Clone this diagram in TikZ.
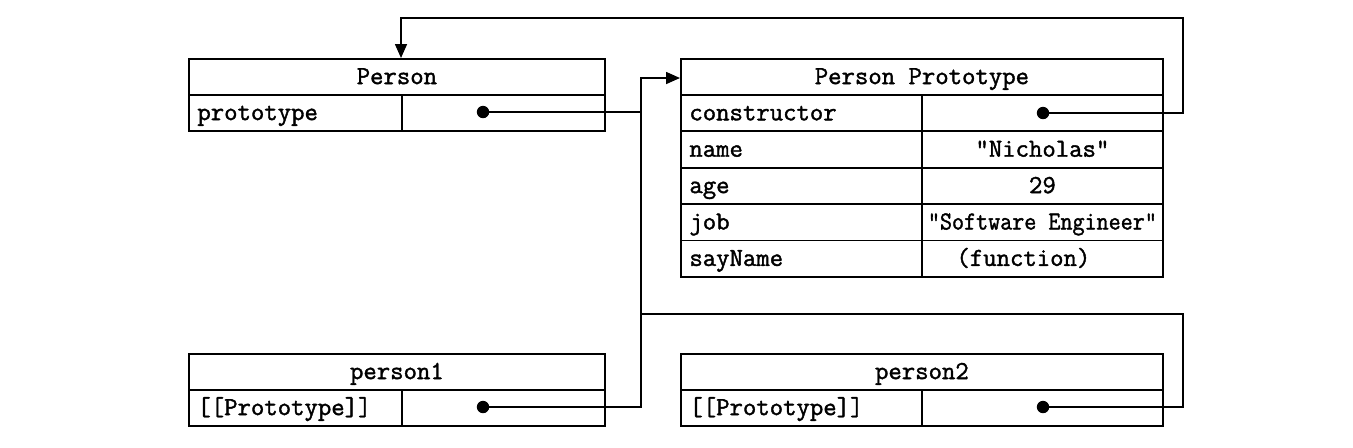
\documentclass[tikz,border=0pt]{standalone}
\usepackage{fontspec}
\newfontfamily\mono{Latin Modern Mono}[FakeBold=1.5]
\usetikzlibrary{arrows.meta}
\tikzset{
  cellbox/.style={draw, line width=0.9pt, inner sep=0pt, minimum height=18pt, anchor=north west},
  txt/.style={font=\mono\fontsize{13pt}{15pt}\selectfont, inner sep=0pt, text height=0.6em, text depth=0.2em, yshift=-1.6pt},
  conn/.style={line width=0.8pt},
  arr/.style={conn, -{Triangle[width=6pt,length=7pt]}},
  dotmark/.style={circle, fill=black, inner sep=0pt, minimum size=6.2pt},
}
\begin{document}
\begin{tikzpicture}[x=0.5pt, y=-0.5pt]
\useasboundingbox (0,0) rectangle (1353,447);
% ---- Person ----
\node[cellbox, minimum width=208pt] (personH) at (188,58) {};
\node[txt] (personHT) at (personH.center) {Person};
\node[cellbox, minimum width=106.5pt] (personK) at (188,94) {};
\node[cellbox, minimum width=101.5pt] (personV) at (401,94) {};
\node[txt, anchor=west] (personKT) at ([xshift=4.5pt]personK.west) {prototype};
\node[dotmark] (pdot) at (483,112) {};
% ---- Person Prototype ----
\node[cellbox, minimum width=241pt] (ppH) at (680,58) {};
\node[txt] (ppHT) at (ppH.center) {Person Prototype};
\foreach \i/\k/\v in {0/constructor/, 1/name/"Nicholas", 2/age/29, 3/job/{\scalebox{0.9}[1]{"Software Engineer"}}, 4/sayName/{(function)\hspace*{19pt}}}{
  \node[cellbox, minimum width=120.5pt, minimum height=18.2pt] (ppK\i) at (680,94+36.4*\i) {};
  \node[cellbox, minimum width=120.5pt, minimum height=18.2pt] (ppV\i) at (921,94+36.4*\i) {};
  \node[txt, anchor=west] (ppKT\i) at ([xshift=4.5pt]ppK\i.west) {\k};
  \node[txt] (ppVT\i) at (ppV\i.center) {\v};
}
\node[dotmark] (cdot) at (1043,113) {};
% ---- person1 ----
\node[cellbox, minimum width=208pt] (p1H) at (188,353) {};
\node[txt] (p1HT) at (p1H.center) {person1};
\node[cellbox, minimum width=106.5pt] (p1K) at (188,389) {};
\node[cellbox, minimum width=101.5pt] (p1V) at (401,389) {};
\node[txt, anchor=west] (p1KT) at ([xshift=4.5pt]p1K.west) {[[Prototype]]};
\node[dotmark] (p1dot) at (483,407) {};
% ---- person2 ----
\node[cellbox, minimum width=241pt] (p2H) at (680,353) {};
\node[txt] (p2HT) at (p2H.center) {person2};
\node[cellbox, minimum width=120.5pt] (p2K) at (680,389) {};
\node[cellbox, minimum width=120.5pt] (p2V) at (921,389) {};
\node[txt, anchor=west] (p2KT) at ([xshift=4.5pt]p2K.west) {[[Prototype]]};
\node[dotmark] (p2dot) at (1043,407) {};
% ---- connectors ----
\coordinate (jTop) at (641,78);
\coordinate (jBot) at (641,407);
\coordinate (topR) at (1183,18);
\coordinate (r2) at (1183,314);
\draw[arr] (p1dot.center) -- (jBot) -- (jTop) -- (jTop -| ppH.west);
\draw[conn] (pdot.center) -- (pdot -| jTop);
\draw[conn] (p2dot.center) -| (r2) -- (r2 -| jTop);
\draw[arr] (cdot.center) -| (topR) -| (personV.west |- personH.north);
\end{tikzpicture}
\end{document}
